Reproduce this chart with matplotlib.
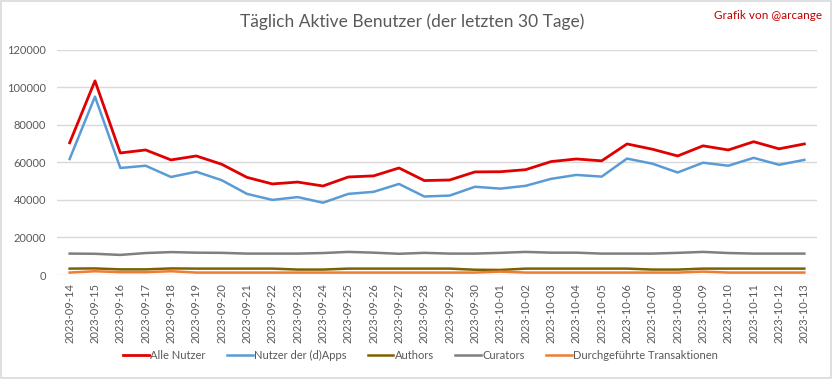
import matplotlib
matplotlib.use("Agg")
import matplotlib.pyplot as plt
from matplotlib.patches import Rectangle

plt.rcParams['font.family'] = ['Lato', 'DejaVu Sans']

dates = ["2023-09-14", "2023-09-15", "2023-09-16", "2023-09-17", "2023-09-18", "2023-09-19",
         "2023-09-20", "2023-09-21", "2023-09-22", "2023-09-23", "2023-09-24", "2023-09-25",
         "2023-09-26", "2023-09-27", "2023-09-28", "2023-09-29", "2023-09-30", "2023-10-01",
         "2023-10-02", "2023-10-03", "2023-10-04", "2023-10-05", "2023-10-06", "2023-10-07",
         "2023-10-08", "2023-10-09", "2023-10-10", "2023-10-11", "2023-10-12", "2023-10-13"]

alle_nutzer = [70400, 103400, 65000, 66600, 61300, 63400, 59000, 52000, 48500, 49500,
               47400, 52200, 52800, 57000, 50300, 50600, 54900, 55000, 56100, 60400,
               61800, 60800, 69800, 67000, 63400, 68800, 66600, 71000, 67200, 69800]
dapps = [61800, 95000, 57000, 58200, 52200, 55000, 50500, 43200, 40000, 41500,
         38500, 43200, 44300, 48500, 41800, 42300, 47000, 46000, 47500, 51200,
         53300, 52400, 62000, 59300, 54600, 59800, 58200, 62400, 58700, 61300]
authors = [3400, 3500, 3000, 3000, 3500, 3400, 3400, 3400, 3400, 2900,
           2900, 3400, 3400, 3400, 3400, 3400, 2800, 2700, 3400, 3400,
           3400, 3400, 3400, 2900, 2900, 3400, 3400, 3400, 3400, 3400]
curators = [11400, 11300, 10700, 11700, 12200, 11900, 11800, 11400, 11400, 11400,
            11700, 12300, 11900, 11300, 11800, 11400, 11400, 11800, 12300, 11900,
            11900, 11400, 11400, 11400, 11800, 12300, 11700, 11400, 11400, 11400]
transaktionen = [1300, 2000, 1500, 1500, 2000, 1300, 1300, 1300, 1300, 1300,
                 1300, 1300, 1300, 1300, 1300, 1300, 1300, 1800, 1300, 1300,
                 1300, 1300, 1300, 1300, 1300, 1800, 1300, 1300, 1300, 1300]

series_names = ["Alle Nutzer", "Nutzer der (d)Apps", "Authors", "Curators",
                "Durchgeführte Transaktionen"]
colors = ["#E00000", "#5B9BD5", "#7F6000", "#7F7F7F", "#ED7D31"]
widths = [2.0, 1.8, 1.8, 1.8, 1.8]

fig = plt.figure(figsize=(8.33, 3.79), dpi=100)
ax = fig.add_axes([0.0684, 0.2744, 0.9124, 0.5945])

x = list(range(len(dates)))
data = [alle_nutzer, dapps, authors, curators, transaktionen]
handles = []
for name, vals, c, w in zip(series_names, data, colors, widths):
    h, = ax.plot(x, vals, color=c, lw=w, label=name, solid_joinstyle='round')
    handles.append(h)

ax.set_xlim(-0.5, len(dates) - 0.5)
ax.set_ylim(0, 120000)
ax.set_yticks(range(0, 120001, 20000))
ax.set_yticklabels([str(v) for v in range(0, 120001, 20000)])
ax.set_xticks(x)
ax.set_xticklabels(dates, rotation=90)
ax.tick_params(axis='both', length=0, labelsize=8, labelcolor="#595959")
ax.tick_params(axis='y', pad=8)
ax.tick_params(axis='x', pad=6)
ax.grid(axis='y', color="#D9D9D9", lw=1)
ax.set_axisbelow(True)
for s in ax.spines.values():
    s.set_visible(False)

fig.text(0.495, 0.942, "Täglich Aktive Benutzer (der letzten 30 Tage)", ha='center', va='center',
         fontsize=12.5, color="#595959", fontweight='normal')
fig.text(0.987, 0.958, "Grafik von @arcange", ha='right', va='center', fontsize=8.5,
         color="#C00000")

leg = fig.legend(handles=handles, loc='center', bbox_to_anchor=(0.505, 0.063), ncol=5,
                 frameon=False, fontsize=8, handlelength=2.3, handletextpad=0.15,
                 columnspacing=1.9, labelcolor="#595959")

fig.patches.append(Rectangle((0.001, 0.002), 0.997, 0.996, transform=fig.transFigure,
                             fill=False, edgecolor="#D9D9D9", lw=1.2))

fig.savefig("out.png", dpi=100)
